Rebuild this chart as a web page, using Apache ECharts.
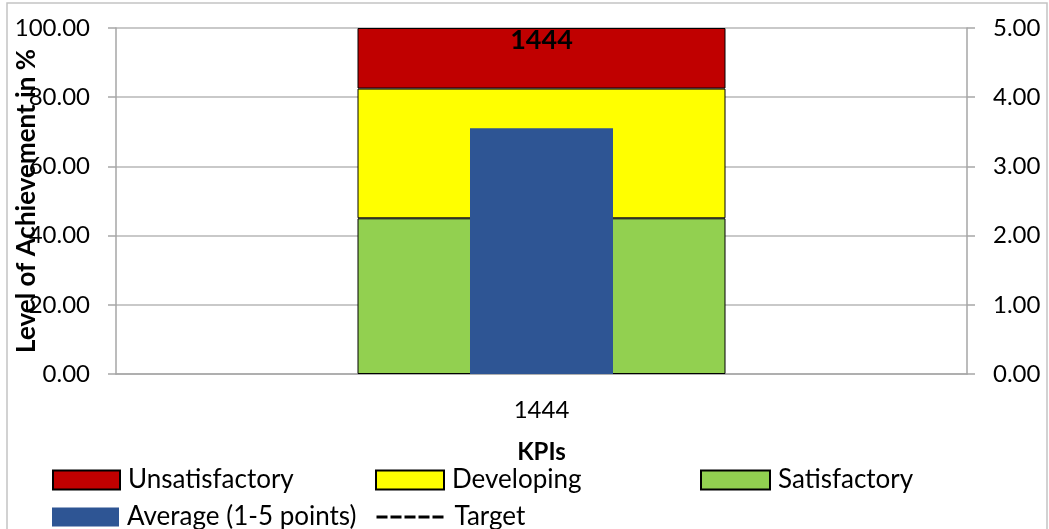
<!DOCTYPE html>
<html>
<head>
<meta charset="utf-8">
<script src="https://cdn.jsdelivr.net/npm/echarts@6/dist/echarts.min.js"></script>
<style>
  html, body { margin: 0; padding: 0; background: #ffffff; }
  #chart { width: 1049px; height: 529px; }
</style>
</head>
<body>
<div id="chart"></div>
<script>
// KPI categories
const categories = ['1444'];
// Achievement bands (% of scale), stacked bottom to top
const satisfactory = [45.0];
const developing = [37.5];
const unsatisfactory = [17.5];
// Average score on the 1-5 point scale (right axis)
const average = [3.55];
// Target line values (right axis)
const targetValues = [];
// Axis tick settings
const leftAxisMax = 100, leftAxisStep = 20;
const rightAxisMax = 5, rightAxisStep = 1;

const FONT = 'Lato';
const axisGray = '#a6a6a6';
const gridGray = '#b7b7b7';

const chart = echarts.init(document.getElementById('chart'), null, { renderer: 'canvas' });

const boxBorder = { borderColor: '#000000', borderWidth: 1 };

function legendItem(name, left, top, width, extra) {
  return Object.assign({
    data: [name],
    left: left,
    top: top,
    padding: 0,
    icon: 'rect',
    itemWidth: width,
    itemHeight: 19,
    selectedMode: false,
    textStyle: { fontFamily: FONT, fontSize: 26, color: '#000000', padding: [0, 0, 0, 3] }
  }, extra || {});
}

const option = {
  animation: false,
  textStyle: { fontFamily: FONT },
  graphic: [{
    type: 'rect',
    shape: { x: 7, y: 3, width: 1040, height: 560 },
    style: { fill: 'none', stroke: '#c4c4c4', lineWidth: 1.5 },
    silent: true
  }],
  grid: { left: 116, right: 82, top: 28, bottom: 155, containLabel: false, outerBoundsMode: 'none' },
  legend: [
    legendItem('Unsatisfactory', 52, 467, 67, { itemStyle: { borderColor: '#000', borderWidth: 2 } }),
    legendItem('Developing', 375, 467, 68, { itemStyle: { borderColor: '#000', borderWidth: 2 } }),
    legendItem('Satisfactory', 700, 467, 69, { itemStyle: { borderColor: '#000', borderWidth: 2 } }),
    legendItem('Average (1-5 points)', 52, 504, 67),
    legendItem('Target', 375, 504, 70, {
      icon: null,
      itemStyle: { opacity: 0 },
      lineStyle: { color: '#000000', width: 3, type: [11, 3] }
    })
  ],
  xAxis: [{
    type: 'category',
    data: categories,
    name: 'KPIs',
    nameLocation: 'middle',
    nameGap: 66,
    nameTextStyle: { fontFamily: FONT, fontSize: 24, fontWeight: 'bold', color: '#000' },
    axisLine: { lineStyle: { color: axisGray, width: 1.5 } },
    axisTick: { show: false },
    axisLabel: { fontFamily: FONT, fontSize: 24, color: '#000', margin: 24 }
  }, {
    type: 'category',
    data: categories,
    show: false
  }],
  yAxis: [{
    type: 'value',
    min: 0,
    max: leftAxisMax,
    interval: leftAxisStep,
    name: 'Level of Achievement in %',
    nameLocation: 'middle',
    nameGap: 76,
    nameRotate: 90,
    nameMoveOverlap: false,
    nameTextStyle: { fontFamily: FONT, fontSize: 26, fontWeight: 'bold', color: '#000' },
    axisLine: { show: true, lineStyle: { color: axisGray, width: 1.5 } },
    axisTick: { show: true, inside: false, length: 8, lineStyle: { color: axisGray, width: 1.5 } },
    splitLine: { show: true, lineStyle: { color: gridGray, width: 1.5 } },
    axisLabel: {
      fontFamily: FONT, fontSize: 24, color: '#000', margin: 26,
      formatter: v => v.toFixed(2)
    }
  }, {
    type: 'value',
    min: 0,
    max: rightAxisMax,
    interval: rightAxisStep,
    position: 'right',
    axisLine: { show: true, lineStyle: { color: axisGray, width: 1.5 } },
    axisTick: { show: true, inside: false, length: 8, lineStyle: { color: axisGray, width: 1.5 } },
    splitLine: { show: false },
    axisLabel: {
      fontFamily: FONT, fontSize: 24, color: '#000', margin: 26,
      formatter: v => v.toFixed(2)
    }
  }],
  series: [{
    name: 'Satisfactory',
    type: 'bar',
    stack: 'bands',
    barWidth: 368,
    data: satisfactory,
    itemStyle: Object.assign({ color: '#92D050' }, boxBorder)
  }, {
    name: 'Developing',
    type: 'bar',
    stack: 'bands',
    barWidth: 368,
    data: developing,
    itemStyle: Object.assign({ color: '#FFFF00' }, boxBorder)
  }, {
    name: 'Unsatisfactory',
    type: 'bar',
    stack: 'bands',
    barWidth: 368,
    data: unsatisfactory,
    itemStyle: Object.assign({ color: '#C00000' }, boxBorder),
    label: {
      show: true,
      position: 'insideTop',
      distance: -1,
      formatter: '{b}',
      fontFamily: FONT,
      fontSize: 27,
      fontWeight: 'bold',
      color: '#000000'
    }
  }, {
    name: 'Average (1-5 points)',
    type: 'bar',
    xAxisIndex: 1,
    yAxisIndex: 1,
    barWidth: 143,
    data: average,
    itemStyle: { color: '#2E5594' }
  }, {
    name: 'Target',
    type: 'line',
    yAxisIndex: 1,
    data: targetValues,
    symbol: 'none',
    itemStyle: { color: '#000000' },
    lineStyle: { color: '#000000', width: 3, type: [11, 3] }
  }]
};

chart.setOption(option);
</script>
</body>
</html>
